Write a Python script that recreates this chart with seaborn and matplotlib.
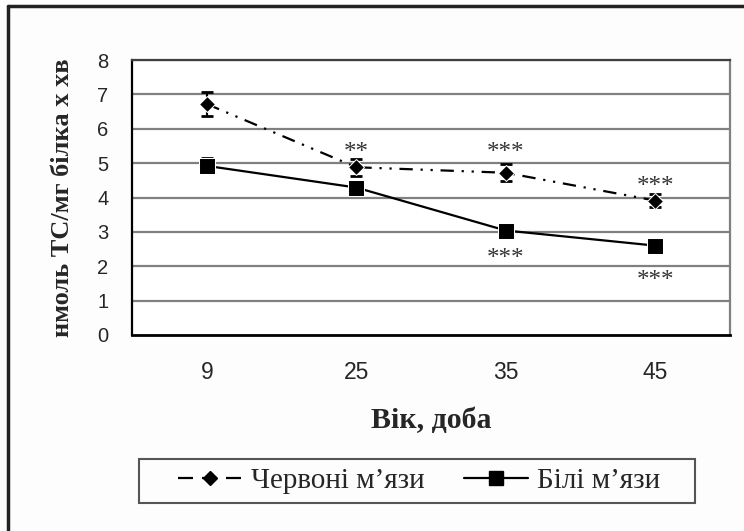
import numpy as np
import pandas as pd
import matplotlib
matplotlib.use('Agg')
import matplotlib.pyplot as plt
import seaborn as sns
from matplotlib.lines import Line2D
from matplotlib.patches import Rectangle

ages = ['9', '25', '35', '45']
red_vals = [6.72, 4.88, 4.72, 3.91]
red_err = [0.34, 0.25, 0.25, 0.19]
white_vals = [4.92, 4.29, 3.04, 2.60]
white_err = [0.22, 0.15, 0.08, 0.08]

red_name = 'Червоні м’язи'
white_name = 'Білі м’язи'

# significance marks: (category index, y, text)
stars = [(1, 5.42, '**'), (2, 5.42, '***'), (3, 4.43, '***'),
         (2, 2.32, '***'), (3, 1.68, '***')]

df_red = pd.DataFrame({'age': ages, 'value': red_vals})
df_white = pd.DataFrame({'age': ages, 'value': white_vals})

sns.set_style('white')
plt.rcParams['font.family'] = ['Liberation Serif', 'DejaVu Serif']

W, H = 744, 531
fig = plt.figure(figsize=(7.44, 5.31), dpi=100)
fig.patch.set_facecolor('#fdfdfd')
ax = fig.add_axes([132 / W, 1 - 335 / H, 598 / W, 275 / H])
ax.set_facecolor('white')

grid_c = '#808080'
for yv in range(1, 9):
    ax.axhline(yv, color=grid_c, lw=1.6, zorder=0)

dash_pat = (6, 3.5, 1, 3.5, 1, 3.5)
sns.lineplot(data=df_red, x='age', y='value', ax=ax, color='black', lw=1.6,
             marker='D', markersize=8.5, sort=False, zorder=3)
sns.lineplot(data=df_white, x='age', y='value', ax=ax, color='black', lw=1.6,
             marker='s', markersize=11, sort=False, zorder=3)
ax.lines[-2].set_dashes(dash_pat)

xpos = np.arange(len(ages))
ax.errorbar(xpos, red_vals, yerr=red_err, fmt='none', ecolor='black',
            elinewidth=1.5, capsize=4.5, capthick=2, zorder=2)
ax.errorbar(xpos, white_vals, yerr=white_err, fmt='none', ecolor='black',
            elinewidth=1.5, capsize=4.5, capthick=2, zorder=2)

for xi, yi, s in stars:
    ax.text(xi, yi - 0.12, s, ha='center', va='center', fontsize=18,
            color='#333333')

ax.set_xlim(-0.5, 3.5)
ax.set_ylim(0, 8)
ax.set_yticks(range(0, 9))
ax.set_xticks(xpos)
ax.set_xticklabels(ages)
ax.set_xticks(np.arange(-0.5, 3.6, 1), minor=True)
ax.tick_params(axis='x', which='major', length=0, pad=19)
ax.tick_params(axis='x', which='minor', length=5, width=1.5, direction='out',
               color='black')
ax.tick_params(axis='y', length=5, width=1.5, direction='out', color='black',
               pad=12)
for lab in ax.get_xticklabels():
    lab.set_family(['Liberation Sans', 'DejaVu Sans'])
    lab.set_fontsize(16.5)
for lab in ax.get_yticklabels():
    lab.set_family(['Liberation Sans', 'DejaVu Sans'])
    lab.set_fontsize(14.5)

ax.spines['left'].set_color('black')
ax.spines['left'].set_linewidth(1.6)
ax.spines['bottom'].set_color('black')
ax.spines['bottom'].set_linewidth(2)
ax.spines['top'].set_color('#404040')
ax.spines['top'].set_linewidth(1.6)
ax.spines['right'].set_color(grid_c)
ax.spines['right'].set_linewidth(1.6)

ax.set_ylabel('нмоль ТС/мг білка х хв', fontsize=19, fontweight='bold',
              labelpad=17)
ax.set_xlabel('Вік, доба', fontsize=21.5, fontweight='bold', labelpad=16)

handles = [
    Line2D([], [], color='black', lw=1.6, dashes=(6.75, 4.05), marker='D',
           markersize=7.5),
    Line2D([], [], color='black', lw=1.6, marker='s', markersize=10),
]
leg = ax.legend(handles, [red_name, white_name], ncol=2, loc='center left',
                bbox_to_anchor=(178 / W, 1 - 481 / H),
                bbox_transform=fig.transFigure,
                fontsize=21, frameon=False, handlelength=2.2,
                handletextpad=0.3, columnspacing=1.35, borderpad=0,
                borderaxespad=0)
# legend box drawn separately, as in the source the entries sit off-centre
fig.add_artist(Rectangle((139 / W, 1 - 503 / H), 556 / W, 44 / H,
                         transform=fig.transFigure, fill=False,
                         edgecolor='#555555', lw=1.5))

# outer frame of the picture
fig.add_artist(Line2D([8 / W, 8 / W], [0, 1 - 6 / H],
                      transform=fig.transFigure, color='#222222', lw=2.5))
fig.add_artist(Line2D([8 / W, 1], [1 - 6 / H, 1 - 6 / H],
                      transform=fig.transFigure, color='#222222', lw=2.5))

fig.savefig('out.png', dpi=100)
